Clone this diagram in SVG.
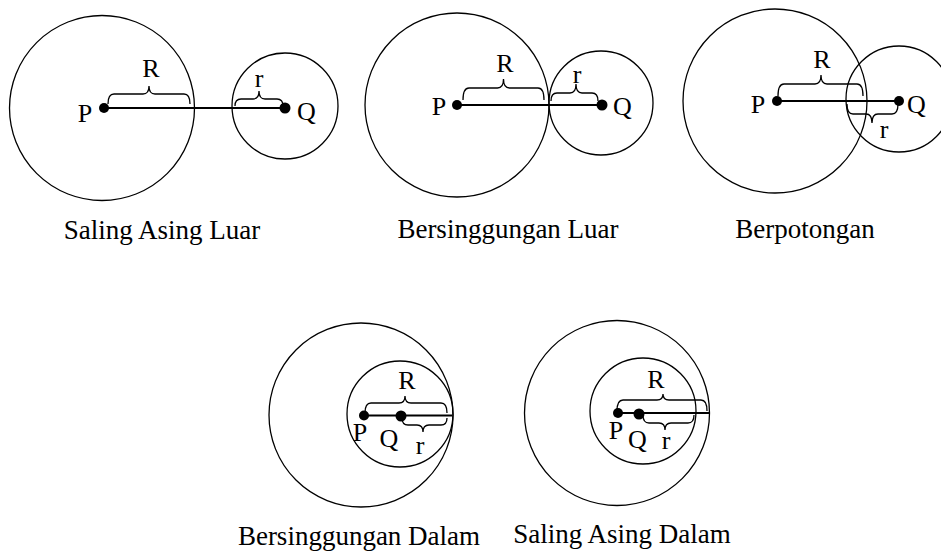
<svg xmlns="http://www.w3.org/2000/svg" width="941" height="552" viewBox="0 0 941 552">
<style>
.c{fill:none;stroke:#000;stroke-width:1.3}
.b{fill:none;stroke:#000;stroke-width:1.3}
.l{stroke:#000;stroke-width:2.2}
.d{fill:#000}
.t{font-family:"Liberation Serif","Times New Roman",serif;font-size:26px;fill:#000}
.cap{font-family:"Liberation Serif","Times New Roman",serif;font-size:27px;fill:#000;text-anchor:middle}
</style>
<rect width="941" height="552" fill="#fff"/>
<g id="saling-asing-luar">
<circle class="c" cx="102" cy="108" r="92.5"/>
<circle class="c" cx="285" cy="106" r="53"/>
<line class="l" x1="104" y1="108" x2="285" y2="108"/>
<circle class="d" cx="104" cy="108" r="5"/>
<circle class="d" cx="285" cy="108" r="5.5"/>
<path class="b" d="M108,104 Q108,94 114,94 L143,94 Q149,94 149,86 Q149,94 155,94 L184,94 Q190,94 190,104"/>
<path class="b" d="M235,106 Q235,99 241,99 L253,99 Q259,99 259,91 Q259,99 265,99 L277,99 Q283,99 283,106"/>
<text class="t" x="151" y="77" text-anchor="middle">R</text>
<text class="t" x="259" y="87" text-anchor="middle">r</text>
<text class="t" x="85" y="122" text-anchor="middle">P</text>
<text class="t" x="297" y="120">Q</text>
<text class="cap" x="162" y="239">Saling Asing Luar</text>
</g>
<g id="bersinggungan-luar">
<circle class="c" cx="457" cy="105" r="92"/>
<circle class="c" cx="601" cy="103" r="52"/>
<line class="l" x1="457" y1="105" x2="602" y2="105"/>
<circle class="d" cx="457" cy="105" r="5"/>
<circle class="d" cx="602" cy="105" r="5.5"/>
<path class="b" d="M463,100 Q463,88 469,88 L497.5,88 Q503.5,88 503.5,79 Q503.5,88 509.5,88 L538,88 Q544,88 544,100"/>
<path class="b" d="M551,101 Q551,93 557,93 L570,93 Q576,93 576,84 Q576,93 582,93 L592,93 Q598,93 598,101"/>
<text class="t" x="505" y="72" text-anchor="middle">R</text>
<text class="t" x="577" y="83" text-anchor="middle">r</text>
<text class="t" x="439" y="115" text-anchor="middle">P</text>
<text class="t" x="613" y="115">Q</text>
<text class="cap" x="508" y="238">Bersinggungan Luar</text>
</g>
<g id="berpotongan">
<circle class="c" cx="775" cy="101" r="92"/>
<circle class="c" cx="899" cy="99" r="53"/>
<line class="l" x1="777" y1="101" x2="899" y2="101"/>
<circle class="d" cx="777" cy="101" r="5"/>
<circle class="d" cx="899" cy="101" r="5"/>
<path class="b" d="M778,96 Q778,84 784,84 L815,84 Q821,84 821,75 Q821,84 827,84 L857,84 Q863,84 863,96"/>
<path class="b" d="M847,104 Q847,114 853,114 L866,114 Q872,114 872,123 Q872,114 878,114 L892,114 Q898,114 898,104"/>
<text class="t" x="822" y="68" text-anchor="middle">R</text>
<text class="t" x="884" y="138" text-anchor="middle">r</text>
<text class="t" x="758" y="113" text-anchor="middle">P</text>
<text class="t" x="907" y="113">Q</text>
<text class="cap" x="805" y="238">Berpotongan</text>
</g>
<g id="bersinggungan-dalam">
<circle class="c" cx="361" cy="415" r="92"/>
<circle class="c" cx="400" cy="414" r="53"/>
<line class="l" x1="364" y1="415.5" x2="452" y2="415.5"/>
<circle class="d" cx="364" cy="415.5" r="5"/>
<circle class="d" cx="401" cy="416" r="5.5"/>
<path class="b" d="M365,413 Q365,403 371,403 L399,403 Q405,403 405,396 Q405,403 411,403 L441,403 Q447,403 447,413"/>
<path class="b" d="M402,418 Q402,425 408,425 L417,425 Q423,425 423,432 Q423,425 429,425 L441,425 Q447,425 447,418"/>
<text class="t" x="407" y="389" text-anchor="middle">R</text>
<text class="t" x="420" y="454" text-anchor="middle">r</text>
<text class="t" x="360" y="441" text-anchor="middle">P</text>
<text class="t" x="389" y="447" text-anchor="middle">Q</text>
<text class="cap" x="359" y="545">Bersinggungan Dalam</text>
</g>
<g id="saling-asing-dalam">
<circle class="c" cx="617" cy="413" r="92.5"/>
<circle class="c" cx="643" cy="411" r="53"/>
<line class="l" x1="618" y1="413" x2="709" y2="413"/>
<circle class="d" cx="618" cy="413" r="5"/>
<circle class="d" cx="639" cy="414" r="5.5"/>
<path class="b" d="M617,411 Q617,400 623,400 L657,400 Q663,400 663,394 Q663,400 669,400 L701,400 Q707,400 707,411"/>
<path class="b" d="M643,415 Q643,423 649,423 L659,423 Q665,423 665,430 Q665,423 671,423 L688,423 Q694,423 694,415"/>
<text class="t" x="656" y="388" text-anchor="middle">R</text>
<text class="t" x="666" y="449" text-anchor="middle">r</text>
<text class="t" x="616" y="439" text-anchor="middle">P</text>
<text class="t" x="637.5" y="448" text-anchor="middle">Q</text>
<text class="cap" x="622" y="543">Saling Asing Dalam</text>
</g>
</svg>
